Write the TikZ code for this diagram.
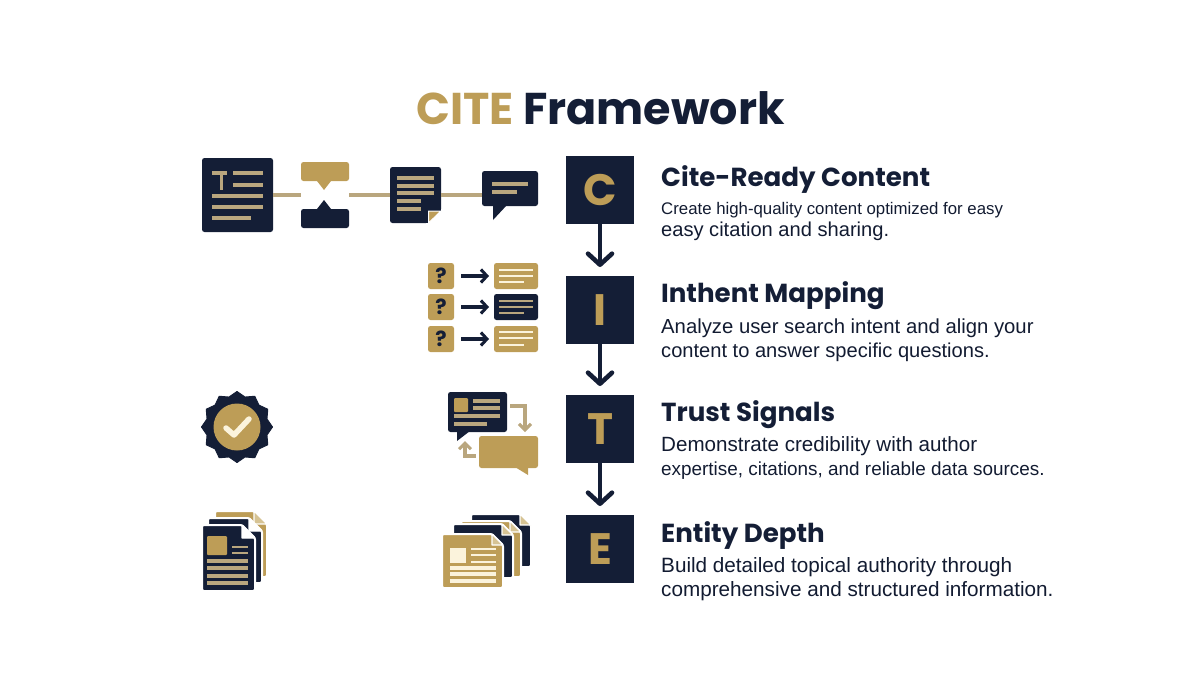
\documentclass[tikz,border=0pt]{standalone}
\usepackage{fontspec}
\usetikzlibrary{arrows.meta}
\setmainfont{Liberation Sans}
\newfontfamily\popfont{Poppins}
\definecolor{navy}{HTML}{141E36}
\definecolor{gold}{HTML}{BD9D57}
\definecolor{mute}{HTML}{B9A67E}
\definecolor{cream}{HTML}{FBF3DC}
\definecolor{tann}{HTML}{D6C394}
\newcommand\fs[1]{\fontsize{#1}{#1}\selectfont}
\newcommand\ibox[6]{\node[ibase,#6,minimum width={(#4-#2)*1pt},minimum height={(#5-#3)*1pt}] (#1) at ({(#2+#4)/2},{(#3+#5)/2}) {};}
\newcommand\tl[4]{\fill[#4] (#1,{#2-1.55}) rectangle (#3,{#2+1.55});}
\newcommand\ts[4]{\fill[#4] (#1,{#2-1.1}) rectangle (#3,{#2+1.1});}
\newcommand\pg[7]{\fill[#6,draw=white,line width=2pt,rounded corners=1.5pt] (#1,#2) -- ({#3-#5},#2) -- (#3,{#2+#5}) -- (#3,#4) -- (#1,#4) -- cycle;
 \fill[#7,draw=white,line width=1.2pt,line join=round] ({#3-#5},#2) -- ({#3-#5},{#2+#5}) -- (#3,{#2+#5}) -- cycle;}
\tikzset{
 ibase/.style={inner sep=0pt,outer sep=0pt,rectangle},
 navybox/.style={fill=navy,rounded corners=2.5pt},
 goldbox/.style={fill=gold,rounded corners=2.5pt},
 letterbox/.style={ibase,fill=navy,text=gold,minimum width=68pt,minimum height=68pt,font=\popfont\bfseries\fs{44}},
 flow/.style={draw=navy,line width=4.4pt,-{Straight Barb[length=11pt,width=24pt,line width=4.6pt,round]},shorten >=9pt},
 link/.style={draw=mute,line width=3.05pt},
 garrow/.style={draw=mute,line width=3.05pt,-{Straight Barb[length=6pt,width=12pt,line width=3.05pt]}},
 narrow/.style={draw=navy,line width=3.05pt,-{Straight Barb[length=6pt,width=13pt,line width=3.05pt]}},
 head/.style={anchor=base west,inner sep=0pt,text=navy,font=\popfont\bfseries\fs{26.1}},
 body/.style={anchor=base west,inner sep=0pt,text=navy!90!black},
 qmark/.style={text=navy,font=\popfont\bfseries\fs{21}},
}
\begin{document}
\begin{tikzpicture}[x=1pt,y=-1pt]
\useasboundingbox (0,0) rectangle (1200,675);
\node[anchor=base,inner sep=0pt,font=\popfont\bfseries\fs{44.5}] (title) at (600.5,124) {\textcolor{gold}{CITE} \textcolor{navy}{Framework}};
\ibox{docA}{202}{158}{273}{232}{navybox}
\ibox{hour}{301}{162}{349}{228}{}
\ibox{docB}{390}{167}{441}{223}{navybox}
\ibox{bubA}{482}{171}{538}{206}{navybox}
\draw[link] (docA) -- (hour);
\draw[link] (hour) -- (docB);
\draw[link] (docB) -- (docB -| bubA.west);
\tl{212}{173}{227}{mute} \fill[mute] (219.5,173) rectangle (222.6,190);
\tl{233}{173}{263}{mute} \tl{233}{185}{263}{mute}
\tl{212}{196}{263}{mute} \tl{212}{207}{263}{mute} \tl{212}{218}{251}{mute}
\fill[gold,rounded corners=2.5pt] (301,162) rectangle (349,181);
\fill[gold] (317,181) -- (324,190) -- (331,181) -- cycle;
\fill[navy,rounded corners=2.5pt] (301,209) rectangle (349,228);
\fill[navy] (317,209) -- (324,200) -- (331,209) -- cycle;
\tl{397}{178}{434}{mute} \tl{397}{186}{434}{mute} \tl{397}{193}{434}{mute} \tl{397}{201}{421}{mute} \tl{397}{209}{421}{mute}
\fill[white] (426,209) rectangle (442,224);
\fill[navy] (426,209) rectangle (441,210.5);
\fill[navy] (426,209) rectangle (427.5,223);
\fill[gold,draw=white,line width=1pt] (428.5,223) -- (428.5,211) -- (441,211) -- cycle;
\fill[navy] (493,205) -- (493,220) -- (507,205) -- cycle;
\tl{492}{184}{528}{mute} \tl{492}{192}{517}{mute}
\foreach \yy/\nm in {263/a,294/b,326/c}{
 \ibox{q\nm}{428}{\yy}{454}{\yy+26}{goldbox}
 \node[qmark] at (q\nm) {?};
}
\ibox{ca}{494}{263}{538}{289}{goldbox}
\ibox{cb}{494}{294}{538}{320}{navybox}
\ibox{cc}{494}{326}{538}{352}{goldbox}
\draw[narrow] (qa) ++(20,0) -- ([xshift=-5pt]ca.west);
\draw[narrow] (qb) ++(20,0) -- ([xshift=-5pt]cb.west);
\draw[narrow] (qc) ++(20,0) -- ([xshift=-5pt]cc.west);
\ts{499}{270}{533}{cream} \ts{499}{276}{533}{cream} \ts{499}{282}{524}{cream}
\ts{499}{301}{533}{mute} \ts{499}{307}{533}{mute} \ts{499}{313}{524}{mute}
\ts{499}{332}{533}{cream} \ts{499}{338}{533}{cream} \ts{499}{345}{524}{cream}
\fill[navy,draw=navy,line width=1pt,line join=round] (237,391.5)
 \foreach \k in {1,...,23}{ -- ({237+(mod(\k,2)==0 ? 35.5 : 31)*sin(\k*15)},{427-(mod(\k,2)==0 ? 35.5 : 31)*cos(\k*15)}) } -- cycle;
\ibox{seal}{213.5}{403.5}{260.5}{450.5}{}
\fill[gold] (seal) circle (23.5);
\draw[cream,line width=5.5pt,line cap=round,line join=round] (226,428) -- (234,435) -- (249,419);
\ibox{bubB}{448}{392}{507}{432}{navybox}
\ibox{bubC}{479}{436}{538}{468}{goldbox}
\fill[navy] (457,431) -- (457,441) -- (470,431) -- cycle;
\fill[gold] (515,467) -- (528,475) -- (528,467) -- cycle;
\fill[gold,rounded corners=1pt] (454,398) rectangle (468,412);
\tl{473}{401}{500}{mute} \tl{473}{408}{500}{mute} \tl{454}{416}{500}{mute} \tl{454}{424}{487}{mute}
\coordinate (g1) at (510,406); \coordinate (g2) at (476,456);
\draw[garrow] (g1) -| (525,432);
\draw[garrow] (g2) -| (465,441);
\pg{215}{511}{267}{577}{13}{gold}{tann}
\pg{208}{518}{262}{583}{13}{navy}{white}
\pg{202}{525}{255}{591}{13}{navy}{white}
\fill[gold,rounded corners=1pt] (207,536) rectangle (227,555);
\ts{232}{547}{248}{mute} \ts{232}{553}{248}{mute}
\tl{207}{561}{248}{mute} \tl{207}{568}{248}{mute} \tl{207}{576}{248}{mute} \tl{207}{583}{248}{mute}
\pg{471}{514}{531}{567}{11}{navy}{tann}
\pg{461}{521}{521}{577}{11}{gold}{tann}
\pg{453}{524}{513}{578}{11}{navy}{tann}
\pg{442}{534}{503}{588}{11}{gold}{tann}
\fill[cream] (450,548) rectangle (466,563);
\ts{471}{549}{496}{cream} \ts{471}{555}{496}{cream} \ts{471}{562}{496}{cream}
\tl{450}{568}{496}{cream} \tl{450}{574}{496}{cream} \tl{450}{581}{496}{cream}
\node[letterbox] (C) at (600,190) {C};
\node[letterbox] (I) at (600,310) {I};
\node[letterbox] (T) at (600,429) {T};
\node[letterbox] (E) at (600,549) {E};
\draw[flow] (C) -- (I);
\draw[flow] (I) -- (T);
\draw[flow] (T) -- (E);
\node[head] (h1) at (661,186) {Cite-Ready Content};
\node[body,font=\fs{16.8}] (b1a) at (661,214) {Create high-quality content optimized for easy};
\node[body,font=\fs{20.1}] (b1b) at (661,236) {easy citation and sharing.};
\node[head] (h2) at (661,302) {Inthent Mapping};
\node[body,font=\fs{20.3}] (b2a) at (661,333) {Analyze user search intent and align your};
\node[body,font=\fs{20.1}] (b2b) at (661,357) {content to answer specific questions.};
\node[head] (h3) at (661,421) {Trust Signals};
\node[body,font=\fs{20.6}] (b3a) at (661,451) {Demonstrate credibility with author};
\node[body,font=\fs{18.9}] (b3b) at (661,475) {expertise, citations, and reliable data sources.};
\node[head] (h4) at (661,542) {Entity Depth};
\node[body,font=\fs{20.7}] (b4a) at (661,572) {Build detailed topical authority through};
\node[body,font=\fs{20.7}] (b4b) at (661,596) {comprehensive and structured information.};
\end{tikzpicture}
\end{document}
